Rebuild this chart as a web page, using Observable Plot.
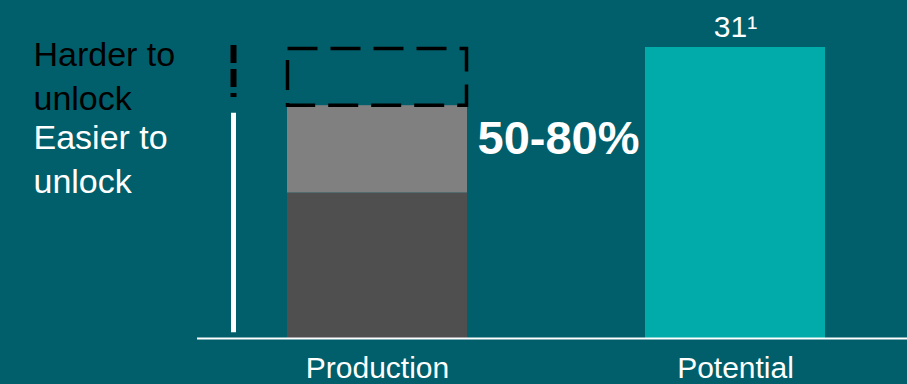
<!DOCTYPE html>
<html>
<head>
<meta charset="utf-8">
<script src="https://cdn.jsdelivr.net/npm/d3@7"></script>
<script src="https://cdn.jsdelivr.net/npm/@observablehq/plot@0.6"></script>
<style>
  html, body { margin: 0; padding: 0; background: #005F6B; }
  #chart { width: 907px; height: 384px; }
</style>
</head>
<body>
<div id="chart"></div>
<script>
// ---- data ----
const categories = ["Production", "Potential"];
const productionSegments = ["Easier to unlock", "Harder to unlock"];
const productionValues = [15.5, 9.3];          // stacked parts of production
const potentialValues = [31];                   // potential total
const potentialLabels = ["31\u00B9"];
const shareLabel = "50-80%";
const sideLabels = ["Harder to\nunlock", "Easier to\nunlock"];

// ---- derived table ----
let acc = 0;
const prodRows = productionSegments.map((s, i) => {
  const r = {cat: categories[0], seg: s, y1: acc, y2: acc + productionValues[i]};
  acc += productionValues[i];
  return r;
});
const prodTotal = acc;
const gapRow = [{cat: categories[0], y1: prodTotal, y2: potentialValues[0]}];
const potRows = [{cat: categories[1], y1: 0, y2: potentialValues[0], label: potentialLabels[0]}];

const bg = "#005F6B";
const segColors = {"Easier to unlock": "#4F4F4F", "Harder to unlock": "#808080"};
const font = "'Liberation Sans', Arial, Helvetica, sans-serif";

const chart = Plot.plot({
  width: 907,
  height: 384,
  marginLeft: 197,
  marginRight: 0,
  marginTop: 0,
  marginBottom: 46,
  style: {background: bg, fontFamily: font, color: "white", overflow: "visible"},
  x: {domain: categories, range: [196.25, 914.75], paddingInner: 0.4986, paddingOuter: 0.25, label: null},
  y: {domain: [0, 31], range: [338, 47], axis: null},
  marks: [
    Plot.barY(prodRows, {x: "cat", y1: "y1", y2: "y2", fill: d => segColors[d.seg]}),
    Plot.barY(potRows, {x: "cat", y1: "y1", y2: "y2", fill: "#00ABAA"}),
    Plot.rectY(gapRow, {x: "cat", y1: "y1", y2: "y2", fill: "none", stroke: "black",
      strokeWidth: 3.5, strokeDasharray: "30,13", insetTop: 1.5, insetLeft: 0.5, insetRight: 0.5}),
    // side brackets
    Plot.ruleX([{cat: categories[0], a: 24.0, b: 0.6}], {x: "cat", y1: "a", y2: "b", dx: -144,
      stroke: "white", strokeWidth: 5}),
    Plot.ruleX([{cat: categories[0], a: 31.2, b: 25.67}], {x: "cat", y1: "a", y2: "b", dx: -144,
      stroke: "black", strokeWidth: 6, strokeDasharray: "18,6"}),
    // side labels
    Plot.text([{t: sideLabels[0], y: 24.29}], {frameAnchor: "left", dx: -164, y: "y", text: "t",
      textAnchor: "start", lineAnchor: "bottom", lineHeight: 1.32, fontSize: 34, fill: "black"}),
    Plot.text([{t: sideLabels[1], y: 15.45}], {frameAnchor: "left", dx: -164, y: "y", text: "t",
      textAnchor: "start", lineAnchor: "bottom", lineHeight: 1.3, fontSize: 34, fill: "white"}),
    // share label
    Plot.text([{cat: categories[0], t: shareLabel, y: 19.7}], {x: "cat", y: "y", text: "t", dx: 100,
      textAnchor: "start", lineAnchor: "bottom", fontSize: 47, fontWeight: "bold", fill: "white"}),
    // potential value label
    Plot.text(potRows, {x: "cat", y: "y2", text: "label", dy: -11, lineAnchor: "bottom",
      fontSize: 30, fill: "white"}),
    Plot.ruleY([0], {stroke: "white", strokeWidth: 2}),
    Plot.axisX({tickSize: 0, tickPadding: 18, fontSize: 30, fill: "white", label: null})
  ]
});
document.getElementById("chart").appendChild(chart);
</script>
</body>
</html>
